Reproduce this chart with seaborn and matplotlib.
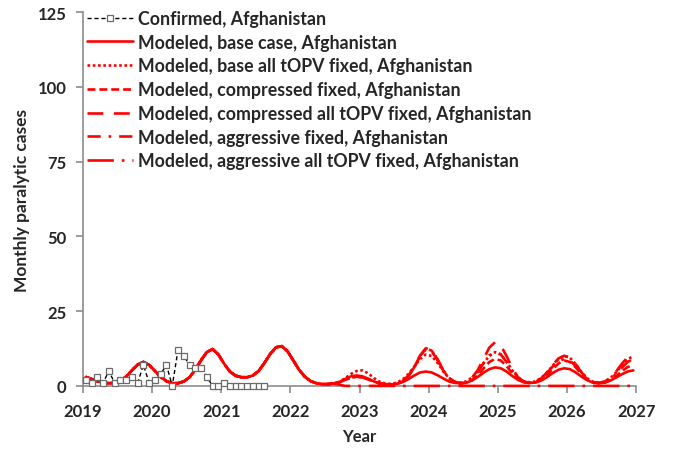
import numpy as np
import pandas as pd
import matplotlib
matplotlib.use("Agg")
import matplotlib.pyplot as plt
import seaborn as sns

# Confirmed monthly paralytic cases, Jan 2019 - Aug 2021
confirmed = [2, 1, 3, 1, 5, 1, 2, 2, 3, 1, 7, 1,
             2, 4, 7, 0, 12, 10, 7, 6, 6, 3, 0, 0,
             1, 0, 0, 0, 0, 0, 0, 0]

# Modeled cases shared by all scenarios, Jan 2019 - Aug 2022
modeled_common = [3.0, 2.3, 1.6, 1.1, 0.9, 1.0, 1.7, 3.1, 5.2, 7.1, 8.0, 7.0,
                  5.0, 3.0, 1.6, 0.9, 0.9, 1.5, 2.9, 5.4, 8.6, 11.3, 12.3, 10.5,
                  7.4, 4.8, 3.4, 2.9, 2.9, 3.5, 5.0, 7.7, 10.7, 12.9, 13.3, 11.6,
                  8.5, 5.4, 3.1, 1.6, 0.9, 0.6, 0.6, 0.8]

# Scenario-specific modeled cases, Sep 2022 - Dec 2026
base_case = [1.3, 2.3, 3.2, 3.5,
             3.2, 2.4, 1.5, 0.9, 0.6, 0.5, 0.7, 1.3, 2.3, 3.5, 4.5, 4.8,
             4.5, 3.6, 2.5, 1.5, 1.0, 0.9, 1.1, 1.8, 3.0, 4.4, 5.6, 6.2,
             5.9, 4.8, 3.3, 2.0, 1.2, 1.0, 1.1, 1.8, 2.9, 4.3, 5.4, 5.9,
             5.6, 4.5, 3.1, 1.9, 1.1, 0.9, 1.1, 1.8, 2.8, 3.9, 4.8, 5.2]
base_all_topv = [1.4, 2.6, 4.0, 5.0,
                 5.2, 4.2, 2.6, 1.4, 0.8, 0.7, 1.1, 2.2, 4.0, 6.5, 9.0, 10.5,
                 10.0, 7.8, 4.9, 2.6, 1.4, 1.1, 1.5, 2.8, 4.9, 7.6, 10.0, 11.3,
                 10.6, 8.2, 5.2, 2.8, 1.5, 1.2, 1.5, 2.6, 4.4, 6.8, 8.9, 10.0,
                 9.4, 7.3, 4.6, 2.5, 1.4, 1.1, 1.4, 2.6, 4.5, 6.9, 8.9, 10.0]
compressed = [1.2, 2.0, 2.8, 3.1,
              2.9, 2.2, 1.4, 0.8, 0.5, 0.4, 0.7, 1.5, 3.2, 6.2, 10.0, 12.5,
              11.8, 8.8, 5.2, 2.6, 1.2, 0.8, 1.0, 1.9, 3.5, 5.8, 8.0, 9.0,
              8.5, 6.6, 4.2, 2.3, 1.3, 1.0, 1.2, 2.1, 3.6, 5.6, 7.5, 8.5,
              8.0, 6.2, 3.9, 2.1, 1.2, 0.9, 1.1, 1.9, 3.2, 4.9, 6.3, 7.0]
compressed_all_topv = [1.2, 2.0, 2.8, 3.1,
                       2.9, 2.2, 1.4, 0.8, 0.5, 0.4, 0.8, 1.7, 3.5, 6.5, 10.2, 12.6,
                       12.0, 9.0, 5.4, 2.7, 1.3, 0.9, 1.3, 2.7, 5.3, 9.0, 12.8, 14.6,
                       13.5, 10.0, 5.9, 2.9, 1.4, 1.0, 1.3, 2.5, 4.5, 7.0, 9.2, 10.1,
                       9.5, 7.3, 4.5, 2.4, 1.3, 1.0, 1.4, 2.7, 4.8, 7.4, 9.6, 10.4]
aggressive = [1.2, 2.0, 2.8, 3.1,
              2.9, 2.2, 1.4, 0.8, 0.5, 0.4, 0.7, 1.6, 3.3, 6.3, 10.0, 12.3,
              11.6, 8.7, 5.2, 2.6, 1.3, 0.9, 1.3, 2.5, 4.6, 7.6, 10.2, 11.2,
              10.5, 8.0, 4.9, 2.6, 1.4, 1.1, 1.4, 2.5, 4.3, 6.5, 8.3, 9.0,
              8.5, 6.6, 4.2, 2.3, 1.3, 1.0, 1.3, 2.3, 4.0, 6.1, 8.0, 9.0]
aggressive_all_topv = [0.4, 0.0, 0.0, 0.0,
                       0.0, 0.0, 0.0, 0.0, 0.0, 0.0, 0.0, 0.0, 0.0, 0.0, 0.0, 0.0,
                       0.0, 0.0, 0.0, 0.0, 0.0, 0.0, 0.0, 0.0, 0.0, 0.0, 0.0, 0.0,
                       0.0, 0.0, 0.0, 0.0, 0.0, 0.0, 0.0, 0.0, 0.0, 0.0, 0.0, 0.0,
                       0.0, 0.0, 0.0, 0.0, 0.0, 0.0, 0.0, 0.0, 0.0, 0.0, 0.0, 0.0]

scenario_labels = [
    "Modeled, base case, Afghanistan",
    "Modeled, base all tOPV fixed, Afghanistan",
    "Modeled, compressed fixed, Afghanistan",
    "Modeled, compressed all tOPV fixed, Afghanistan",
    "Modeled, aggressive fixed, Afghanistan",
    "Modeled, aggressive all tOPV fixed, Afghanistan",
]
scenario_values = [base_case, base_all_topv, compressed, compressed_all_topv,
                   aggressive, aggressive_all_topv]
scenario_dashes = ["-", (0, (1, 1)), (0, (3, 1.5)), (0, (6, 4)),
                   (0, (5, 3, 1, 3)), (0, (10, 3, 1, 3))]

year_ticks = list(range(2019, 2028))
y_ticks = [0, 25, 50, 75, 100, 125]


def month_times(n, start=0):
    return 2019 + (np.arange(start, start + n) + 0.5) / 12.0


sns.set_theme(style="white")
plt.rcParams["font.family"] = ["Lato", "DejaVu Sans"]
plt.rcParams["font.weight"] = "bold"

fig = plt.figure(figsize=(6.74, 4.52), dpi=100)
ax = fig.add_axes([0.123, 0.144, 0.821, 0.827])

red = "#ff0000"
for label, vals, ls in zip(scenario_labels, scenario_values, scenario_dashes):
    y = list(modeled_common) + list(vals)
    df = pd.DataFrame({"t": month_times(len(y)), "cases": y})
    sns.lineplot(data=df, x="t", y="cases", ax=ax, color=red, lw=1.9,
                 linestyle=ls, label=label, zorder=4, clip_on=False)

conf_df = pd.DataFrame({"t": month_times(len(confirmed)), "cases": confirmed})
sns.lineplot(data=conf_df, x="t", y="cases", ax=ax, color="black", lw=1.0,
             linestyle=(0, (3, 2)), marker="s", markersize=4,
             markerfacecolor="white", markeredgecolor="#6a6a6a",
             markeredgewidth=0.9, label="Confirmed, Afghanistan", zorder=5,
             clip_on=False)

h, l = ax.get_legend_handles_labels()
order = [len(h) - 1] + list(range(len(h) - 1))
leg = ax.legend([h[i] for i in order], [l[i] for i in order],
                loc="upper left", bbox_to_anchor=(-0.005, 1.025), frameon=False,
                fontsize=12.8, handlelength=2.55, handletextpad=0.3,
                labelspacing=0.38, borderaxespad=0.0)
for t in leg.get_texts():
    t.set_fontweight("bold")

ax.set_xlim(2019, 2027)
ax.set_ylim(0, 125)
ax.set_xticks(year_ticks)
ax.set_xticklabels([str(v) for v in year_ticks], fontsize=12, fontweight="bold")
ax.set_yticks(y_ticks)
ax.set_yticklabels([str(v) for v in y_ticks], fontsize=12, fontweight="bold")
ax.set_xlabel("Year", fontsize=12, fontweight="bold", labelpad=7)
ax.set_ylabel("Monthly paralytic cases", fontsize=12.5, fontweight="bold", labelpad=5)

for side in ["top", "right"]:
    ax.spines[side].set_visible(False)
for side in ["left", "bottom"]:
    ax.spines[side].set_color("#8c8c8c")
    ax.spines[side].set_linewidth(1.2)
    ax.spines[side].set_zorder(1)
ax.tick_params(axis="both", which="major", direction="out", length=5,
               width=1.2, color="#8c8c8c", pad=7, bottom=True, left=True)

fig.savefig("out.png", dpi=100)
